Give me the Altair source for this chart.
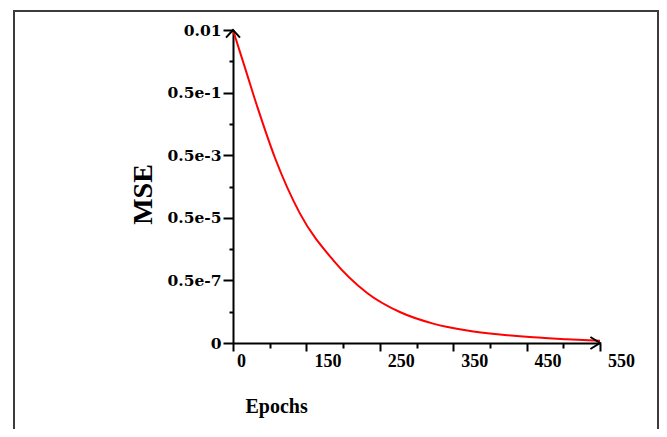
import altair as alt
import pandas as pd

# Curve
epochs = [0, 18, 37, 63, 100, 150, 201, 250, 300, 351, 400, 450, 500, 550]
mse = [0.01, 0.00879, 0.00751, 0.00591, 0.00415, 0.00265, 0.0016,
       0.00099, 0.00062, 0.0004, 0.00027, 0.00018, 0.00012, 0.00007]

# Axis ticks and their (odd) labels as printed in the figure
x_tick_values = [0, 55, 110, 165, 220, 275, 330, 385, 440, 495, 550]
x_label_at = [0, 110, 220, 330, 440, 550]
x_label_text = ["0", "150", "250", "350", "450", "550"]

y_tick_values = [0, 0.001, 0.002, 0.003, 0.004, 0.005, 0.006, 0.007, 0.008, 0.009, 0.01]
y_label_at = [0, 2, 4, 6, 8, 10]          # in units of 0.001
y_label_text = ["0", "0.5e-7", "0.5e-5", "0.5e-3", "0.5e-1", "0.01"]

x_domain = [0, 550]
y_domain = [0, 0.01]

df = pd.DataFrame({"epoch": epochs, "mse": mse})


def build_expr(keys, texts, key_expr):
    expr = "''"
    for k, t in reversed(list(zip(keys, texts))):
        expr = f"({key_expr} == {k} ? '{t}' : {expr})"
    return expr


x_label_expr = build_expr(x_label_at, x_label_text, "datum.value")
y_label_expr = build_expr(y_label_at, y_label_text, "round(datum.value * 1000)")

x_axis = alt.Axis(
    values=x_tick_values,
    labelExpr=x_label_expr,
    labelOffset={"condition": {"test": "datum.value == 0", "value": 8}, "value": 21},
    ticks=True,
    tickSize={"condition": {"test": "round(datum.value / 55) % 2 == 0", "value": 8}, "value": 5},
    tickWidth=2, tickColor="#000000", tickOpacity=1,
    domainColor="black", domainWidth=2,
    labelFont="Liberation Serif", labelFontWeight="bold", labelFontSize=18,
    labelColor="black", labelPadding=1, labelFlush=False, labelOverlap=False,
    grid=False,
    title="Epochs", titleFont="Liberation Serif", titleFontSize=20,
    titleFontWeight="bold", titleColor="black",
    titleX=12, titleY=69, titleAlign="left", titleBaseline="alphabetic",
)

y_axis = alt.Axis(
    values=y_tick_values,
    labelExpr=y_label_expr,
    ticks=True,
    tickSize={"condition": {"test": "round(datum.value * 1000) % 2 == 0", "value": 10}, "value": 4},
    tickWidth=2, tickColor="#000000", tickOpacity=1,
    domainColor="black", domainWidth=2,
    labelFont="DejaVu Serif", labelFontWeight="bold", labelFontSize=15.5,
    labelColor="black", labelPadding=2, labelFlush=False, labelOverlap=False,
    grid=False,
    title="MSE", titleFont="Liberation Serif", titleFontSize=28,
    titleFontWeight="bold", titleColor="black",
    titleAngle=270, titleX=-82, titleY=164, titleAlign="center",
    titleBaseline="alphabetic",
)

xs = alt.Scale(domain=x_domain, nice=False, zero=False)
ys = alt.Scale(domain=y_domain, nice=False, zero=False)

frame = alt.Chart(alt.Data(values=[{}])).mark_rect(
    fill="transparent", stroke="#3c3c3c", strokeWidth=2
).encode(
    x=alt.value(-219), x2=alt.value(425), y=alt.value(-19), y2=alt.value(440)
)

line = alt.Chart(df).mark_line(
    color="#ff0000", strokeWidth=2, interpolate="monotone"
).encode(
    x=alt.X("epoch:Q", scale=xs, axis=x_axis),
    y=alt.Y("mse:Q", scale=ys, axis=y_axis),
)

y_arrow = alt.Chart(pd.DataFrame({"epoch": [x_domain[0]], "mse": [y_domain[1]]})).mark_point(
    shape="M -1 1.1 L 0 0 L 1 1.1", size=196, filled=False,
    stroke="black", strokeWidth=2, opacity=1
).encode(x=alt.X("epoch:Q", scale=xs, axis=x_axis), y=alt.Y("mse:Q", scale=ys, axis=y_axis))

x_arrow = alt.Chart(pd.DataFrame({"epoch": [x_domain[1]], "mse": [y_domain[0]]})).mark_point(
    shape="M -1.6 -1 L 0 0 L -1.6 1", size=144, filled=False,
    stroke="black", strokeWidth=2, opacity=1
).encode(x=alt.X("epoch:Q", scale=xs, axis=x_axis), y=alt.Y("mse:Q", scale=ys, axis=y_axis))

chart = alt.layer(line, y_arrow, x_arrow, frame).properties(
    width=367, height=313,
    padding={"left": 225, "top": 22, "right": 59, "bottom": 86},
    autosize=alt.AutoSizeParams(type="none"),
    background="white",
).configure_view(stroke=None)

chart.save("out.html", embed_options={"renderer": "svg", "actions": False})
